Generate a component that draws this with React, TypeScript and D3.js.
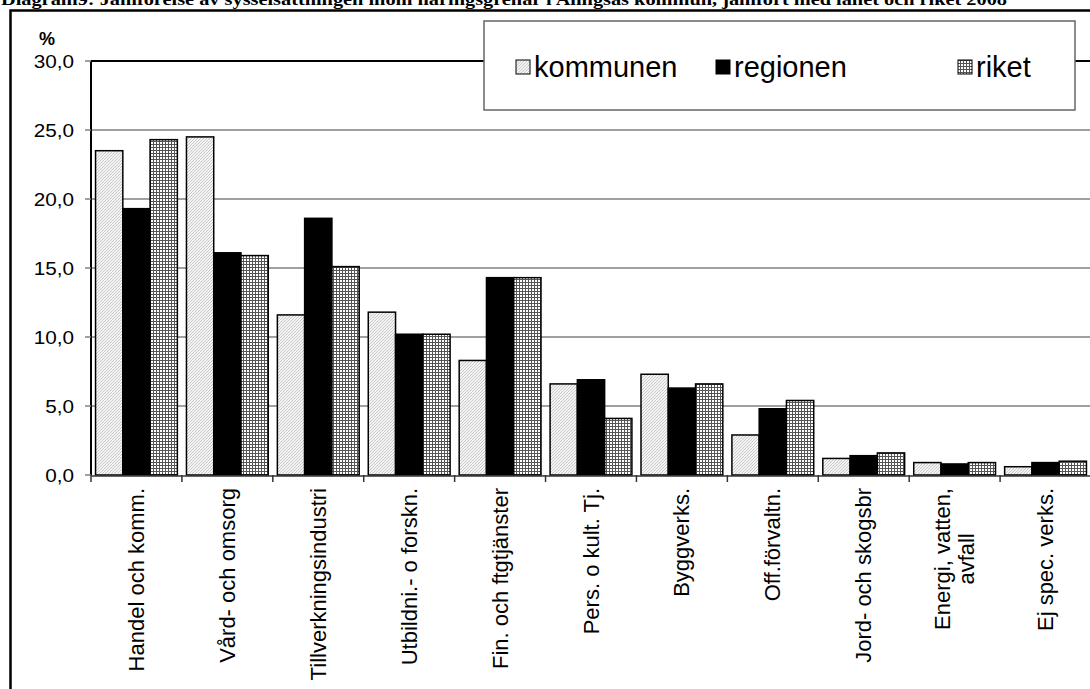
import { useEffect, useRef } from 'react'
import * as d3 from 'd3'

const title =
  'Diagram9: Jämförelse av sysselsättningen inom näringsgrenar i Alingsås kommun, jämfört med länet och riket 2008'

const categories = [
  'Handel och komm.',
  'Vård- och omsorg',
  'Tillverkningsindustri',
  'Utbildni.- o forskn.',
  'Fin. och ftgtjänster',
  'Pers. o kult. Tj.',
  'Byggverks.',
  'Off.förvaltn.',
  'Jord- och skogsbr',
  'Energi, vatten,\navfall',
  'Ej spec. verks.',
]

const seriesNames = ['kommunen', 'regionen', 'riket']

const kommunen = [23.5, 24.5, 11.6, 11.8, 8.3, 6.6, 7.3, 2.9, 1.2, 0.9, 0.6]
const regionen = [19.3, 16.1, 18.6, 10.2, 14.3, 6.9, 6.3, 4.8, 1.4, 0.8, 0.9]
const riket = [24.3, 15.9, 15.1, 10.2, 14.3, 4.1, 6.6, 5.4, 1.6, 0.9, 1.0]

const yTicks = [0, 5, 10, 15, 20, 25, 30]

const W = 1090
const H = 689
const SANS = 'Arial, "Liberation Sans", sans-serif'

export default function App() {
  const svgRef = useRef<SVGSVGElement>(null)

  useEffect(() => {
    if (!svgRef.current) return
    const svg = d3.select(svgRef.current)
    svg.selectAll('*').remove()

    const defs = svg.append('defs')

    // light diagonal hatch for kommunen
    const hatch = defs.append('pattern')
      .attr('id', 'p-kommunen')
      .attr('patternUnits', 'userSpaceOnUse')
      .attr('width', 3)
      .attr('height', 3)
    hatch.append('rect').attr('width', 3).attr('height', 3).attr('fill', '#f4f4f4')
    hatch.append('path')
      .attr('d', 'M-1,1 l2,-2 M0,3 l3,-3 M2,4 l2,-2')
      .attr('stroke', '#c4c4c4')
      .attr('stroke-width', 0.9)

    // fine grid for riket
    const grid = defs.append('pattern')
      .attr('id', 'p-riket')
      .attr('patternUnits', 'userSpaceOnUse')
      .attr('width', 3)
      .attr('height', 3)
    grid.append('rect').attr('width', 3).attr('height', 3).attr('fill', '#ffffff')
    grid.append('path')
      .attr('d', 'M0,0.5 H3 M0.5,0 V3')
      .attr('stroke', '#555')
      .attr('stroke-width', 1)

    const fills = ['url(#p-kommunen)', '#000000', 'url(#p-riket)']
    const values = [kommunen, regionen, riket]

    svg.append('rect').attr('width', W).attr('height', H).attr('fill', '#fff')

    // title (cut at the top, as in the source)
    svg.append('text')
      .attr('x', 1)
      .attr('y', 5)
      .attr('font-family', '"Liberation Serif", "Times New Roman", serif')
      .attr('font-weight', 'bold')
      .attr('font-size', 17)
      .attr('textLength', 1006)
      .attr('lengthAdjust', 'spacingAndGlyphs')
      .text(title)

    // outer chart border
    svg.append('rect')
      .attr('x', 10.5)
      .attr('y', 10.5)
      .attr('width', 1200)
      .attr('height', 900)
      .attr('fill', 'none')
      .attr('stroke', '#000')
      .attr('stroke-width', 2.5)

    const plotLeft = 91
    const plotRight = 1091
    const plotTop = 61
    const plotBottom = 475

    const x0 = d3.scaleBand<string>()
      .domain(categories)
      .range([plotLeft, plotRight])
      .paddingInner(0.1)
      .paddingOuter(0.05)

    const x1 = d3.scaleBand<number>()
      .domain([0, 1, 2])
      .range([0, x0.bandwidth()])

    const y = d3.scaleLinear().domain([0, 30]).range([plotBottom, plotTop])

    // gridlines
    svg.append('g')
      .selectAll('line')
      .data(yTicks.filter(t => t > 0 && t < 30))
      .join('line')
      .attr('x1', plotLeft)
      .attr('x2', plotRight)
      .attr('y1', d => y(d))
      .attr('y2', d => y(d))
      .attr('stroke', '#808080')
      .attr('stroke-width', 1.5)

    // plot area top border
    svg.append('line')
      .attr('x1', plotLeft)
      .attr('x2', plotRight)
      .attr('y1', y(30))
      .attr('y2', y(30))
      .attr('stroke', '#000')
      .attr('stroke-width', 2)

    // bars
    categories.forEach((c, i) => {
      values.forEach((vals, s) => {
        svg.append('rect')
          .attr('x', (x0(c) ?? 0) + (x1(s) ?? 0))
          .attr('y', y(vals[i]))
          .attr('width', x1.bandwidth())
          .attr('height', y(0) - y(vals[i]))
          .attr('fill', fills[s])
          .attr('stroke', '#000')
          .attr('stroke-width', 1.5)
      })
    })

    // y axis
    svg.append('line')
      .attr('x1', plotLeft)
      .attr('x2', plotLeft)
      .attr('y1', plotTop)
      .attr('y2', plotBottom)
      .attr('stroke', '#000')
      .attr('stroke-width', 2)

    const yAxis = svg.append('g')
    yTicks.forEach(t => {
      yAxis.append('line')
        .attr('x1', plotLeft - 6)
        .attr('x2', plotLeft)
        .attr('y1', y(t))
        .attr('y2', y(t))
        .attr('stroke', '#808080')
        .attr('stroke-width', 1.5)
      yAxis.append('text')
        .attr('transform', `translate(74,${y(t) + 6.5}) scale(1.12,1)`)
        .attr('text-anchor', 'end')
        .attr('font-family', SANS)
        .attr('font-size', 18.5)
        .text(d3.format('.1f')(t).replace('.', ','))
    })

    svg.append('text')
      .attr('x', 47)
      .attr('y', 45)
      .attr('text-anchor', 'middle')
      .attr('font-family', SANS)
      .attr('font-weight', 'bold')
      .attr('font-size', 18)
      .text('%')

    // x axis
    svg.append('line')
      .attr('x1', plotLeft)
      .attr('x2', plotRight)
      .attr('y1', plotBottom + 1)
      .attr('y2', plotBottom + 1)
      .attr('stroke', '#333')
      .attr('stroke-width', 1.5)

    d3.range(categories.length + 1).forEach(i => {
      const tx = plotLeft + i * x0.step()
      svg.append('line')
        .attr('x1', tx)
        .attr('x2', tx)
        .attr('y1', plotBottom)
        .attr('y2', plotBottom + 7)
        .attr('stroke', '#333')
        .attr('stroke-width', 1.5)
    })

    // category labels, rotated
    const fontSize = 22
    categories.forEach(c => {
      const cx = (x0(c) ?? 0) + x0.bandwidth() / 2
      const lines = c.split('\n')
      const lineH = 24
      if (lines.length === 1) {
        svg.append('text')
          .attr('transform', `translate(${cx + 7.5},488) rotate(-90)`)
          .attr('text-anchor', 'end')
          .attr('font-family', SANS)
          .attr('font-size', fontSize)
          .text(c)
      } else {
        const tmp = svg.append('text')
          .attr('font-family', SANS)
          .attr('font-size', fontSize)
          .text(lines[0])
        const len = (tmp.node() as SVGTextElement).getComputedTextLength()
        tmp.remove()
        lines.forEach((ln, k) => {
          const off = (k - (lines.length - 1) / 2) * lineH
          svg.append('text')
            .attr('transform', `translate(${cx + 7.5 + off},${488 + len / 2}) rotate(-90)`)
            .attr('text-anchor', 'middle')
            .attr('font-family', SANS)
            .attr('font-size', fontSize)
            .text(ln)
        })
      }
    })

    // legend
    const lg = svg.append('g')
    lg.append('rect')
      .attr('x', 484)
      .attr('y', 21)
      .attr('width', 591)
      .attr('height', 89)
      .attr('fill', '#fff')
      .attr('stroke', '#666')
      .attr('stroke-width', 1.5)
    const legendX = [516, 716, 958]
    seriesNames.forEach((name, s) => {
      lg.append('rect')
        .attr('x', legendX[s])
        .attr('y', 60)
        .attr('width', 14)
        .attr('height', 14)
        .attr('fill', fills[s])
        .attr('stroke', '#000')
        .attr('stroke-width', 1)
      lg.append('text')
        .attr('x', legendX[s] + 18)
        .attr('y', 77)
        .attr('font-family', SANS)
        .attr('font-size', 29)
        .text(name)
    })
  }, [])

  return (
    <svg
      ref={svgRef}
      width={W}
      height={H}
      style={{ position: 'absolute', left: 0, top: 0, display: 'block' }}
    />
  )
}
